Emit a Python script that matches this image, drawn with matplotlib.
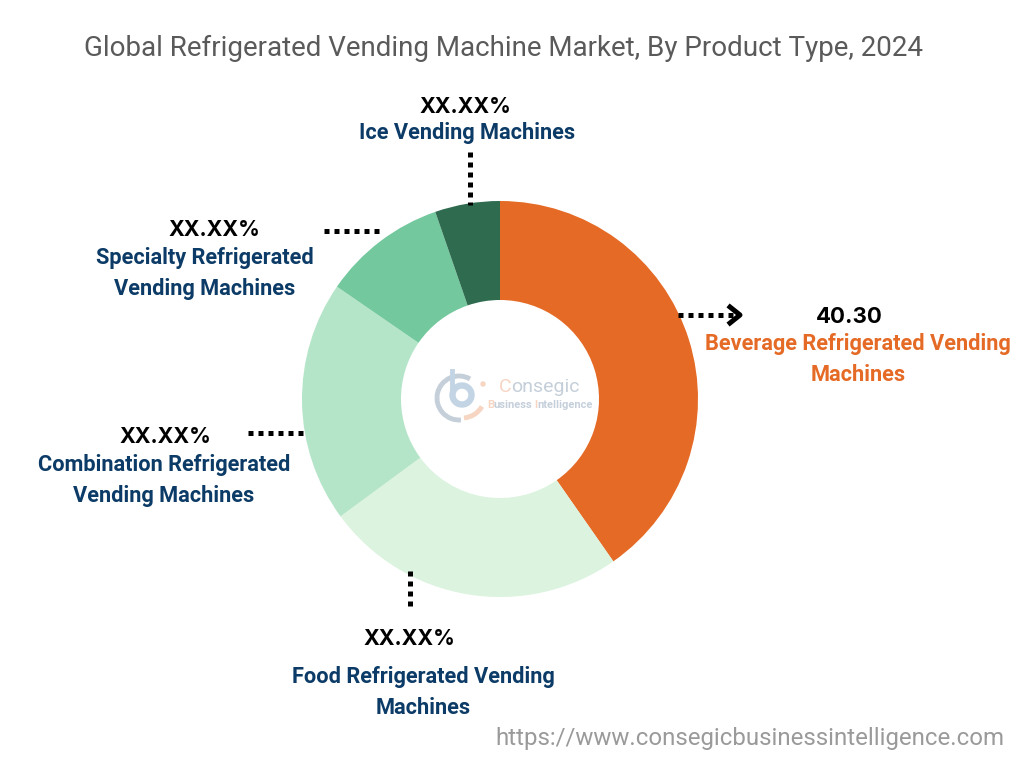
import matplotlib
matplotlib.use("Agg")
import matplotlib.pyplot as plt
from matplotlib.patches import Arc, Wedge, Circle

# slice shares, clockwise from 12 o'clock
categories = ["Beverage", "Food", "Combination", "Specialty", "Ice"]
values = [40.3, 24.6, 19.7, 10.1, 5.3]
colors = ["#E56A26", "#DCF3DF", "#B5E5C8", "#74C89E", "#2E6B4F"]

title = "Global Refrigerated Vending Machine Market, By Product Type, 2024"
pct_label = "XX.XX%"
url = "https://www.consegicbusinessintelligence.com"

NAVY = "#0B3B66"
ORANGE = "#E56A26"
LOGO_BLUE = "#C3D5E5"
LOGO_GREY = "#C5CFDA"
LOGO_PEACH = "#F6D5C3"

plt.rcParams["font.family"] = ["Roboto", "DejaVu Sans"]

fig = plt.figure(figsize=(10.24, 7.68), dpi=100)
ax = fig.add_axes([0, 0, 1, 1], zorder=2)
ax.set_xlim(0, 1024)
ax.set_ylim(768, 0)
ax.axis("off")

# donut, pie on a separate axes placed under the pixel axes
pie_ax = fig.add_axes([302 / 1024, 1 - 597 / 768, 396 / 1024, 396 / 768], zorder=1)
pie_ax.pie(values, colors=colors, startangle=90, counterclock=False, radius=1.0,
           wedgeprops=dict(width=0.5, linewidth=0))
pie_ax.set_xlim(-1, 1)
pie_ax.set_ylim(-1, 1)

ax.text(503, 48, title, ha="center", va="center", fontsize=19.95, color="#5A5A5A")

# percent labels
for x, y, s, size in [(465, 107, pct_label, 15.4), (214, 230, pct_label, 15.4),
                      (165, 437, pct_label, 15.4), (409, 639, pct_label, 15.4),
                      (849, 317, "40.30", 16)]:
    ax.text(x, y, s, ha="center", va="center", fontsize=size, color="black", fontweight="bold",
            family=["Inter", "DejaVu Sans"])

# category labels
for x, y, s, c in [(467, 133, "Ice Vending Machines", NAVY),
                   (205, 258, "Specialty Refrigerated", NAVY),
                   (205, 289, "Vending Machines", NAVY),
                   (164, 465, "Combination Refrigerated", NAVY),
                   (164, 496, "Vending Machines", NAVY),
                   (423, 677, "Food Refrigerated Vending", NAVY),
                   (423, 708, "Machines", NAVY),
                   (858, 344, "Beverage Refrigerated Vending", ORANGE),
                   (858, 375, "Machines", ORANGE)]:
    ax.text(x, y, s, ha="center", va="center", fontsize=15.7, color=c, fontweight="bold")

# dotted leader lines
dots = dict(color="black", linewidth=3.6, linestyle=(0, (1, 1)))
ax.plot([470, 470], [152, 205], **dots)
ax.plot([324, 380], [231, 231], **dots)
ax.plot([248, 303], [433, 433], **dots)
ax.plot([410, 410], [571, 606], **dots)
ax.plot([678, 735], [315, 315], **dots)
ax.plot([730, 740, 730], [307, 315, 323], color="black", linewidth=3.6)

ax.text(750, 739, url, ha="center", va="center", fontsize=17.25, color="#9A9A9A")

# logo in the hole
ax.add_patch(Arc((459, 398), 44, 44, theta1=85, theta2=300, color=LOGO_GREY, linewidth=3.5))
ax.add_patch(Wedge((462, 395), 12, 0, 360, width=5, color=LOGO_BLUE))
ax.plot([452, 452], [371, 395], color=LOGO_BLUE, linewidth=3.5)
ax.add_patch(Arc((462, 395), 46, 46, theta1=30, theta2=85, color=LOGO_PEACH, linewidth=3.5))
ax.add_patch(Circle((483, 384), 2, color=LOGO_PEACH))
ax.text(499, 387, "C", ha="left", va="center", fontsize=14, color=LOGO_PEACH)
ax.text(511, 387, "onsegic", ha="left", va="center", fontsize=14, color=LOGO_GREY)
ax.text(487, 405, "B", ha="left", va="center", fontsize=8, color=LOGO_PEACH, fontweight="bold")
ax.text(493, 405, "usiness", ha="left", va="center", fontsize=8, color=LOGO_GREY, fontweight="bold")
ax.text(534, 405, "I", ha="left", va="center", fontsize=8, color=LOGO_PEACH, fontweight="bold")
ax.text(537, 405, "ntelligence", ha="left", va="center", fontsize=8, color=LOGO_GREY, fontweight="bold")

fig.savefig("out.png", dpi=100)
